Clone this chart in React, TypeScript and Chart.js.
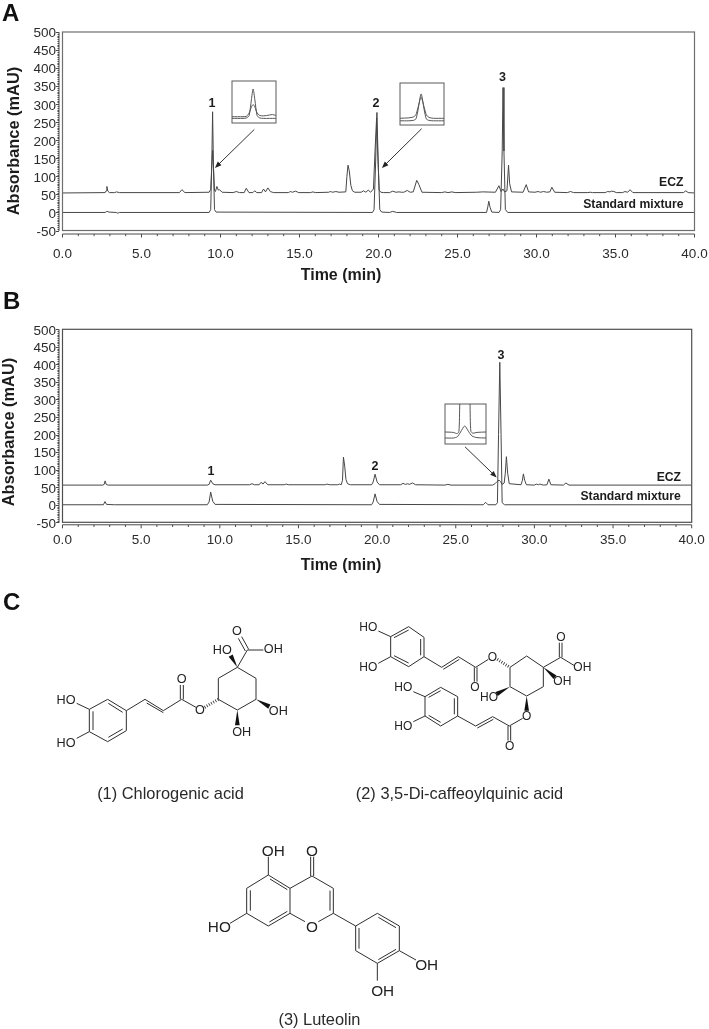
import React, { useEffect, useRef } from "react";
import { Chart, registerables } from "chart.js";

Chart.register(...registerables);

const FONT = '"Liberation Sans", Arial, sans-serif';
const INK = "#2b2b2b";
const LINE = "#474747";

/* ---------- chromatogram data (time in min, absorbance in mAU) ---------- */
const timeA_ecz = [0, 2.7, 2.76, 2.81, 2.87, 2.97, 3.3, 3.42, 3.6, 7.4, 7.56, 7.75, 9.28, 9.38, 9.45, 9.5, 9.55, 9.62, 9.68, 9.77, 9.86, 9.94, 10.1, 10.8, 11, 11.2, 11.5, 11.63, 11.8, 12.05, 12.16, 12.3, 12.6, 12.72, 12.85, 13, 13.15, 13.35, 14.3, 14.42, 14.55, 14.75, 14.95, 15.7, 15.85, 16, 16.85, 16.95, 17.1, 17.3, 17.5, 17.93, 18.0, 18.07, 18.15, 18.25, 18.35, 18.5, 18.9, 19.05, 19.2, 19.35, 19.5, 19.68, 19.78, 19.88, 19.95, 20.04, 20.15, 20.3, 20.7, 20.9, 21.1, 21.3, 21.45, 21.6, 21.82, 22.0, 22.2, 22.42, 22.55, 22.75, 24.0, 24.2, 24.4, 24.65, 24.85, 26.2, 26.6, 27.4, 27.62, 27.76, 27.88, 27.98, 28.13, 28.23, 28.3, 28.42, 29.15, 29.35, 29.5, 29.9, 30.1, 30.25, 30.45, 30.65, 30.85, 30.97, 31.15, 31.95, 32.15, 32.35, 33.25, 33.4, 33.55, 34.35, 34.5, 34.65, 34.75, 34.9, 35.05, 35.45, 35.6, 35.75, 35.8, 35.92, 36.1, 39.3, 39.45, 39.6, 40];
const absA_ecz = [54, 55, 60, 72, 59, 55, 55, 57, 55, 55, 63, 55, 56, 64, 130, 172, 128, 60, 58, 72, 62, 63, 56, 55, 58, 55, 55, 67, 55, 55, 60, 55, 55, 65, 57, 68, 58, 55, 55, 58, 56, 59, 55, 55, 57, 55, 56, 58, 56, 58, 56, 57, 100, 131, 115, 75, 60, 56, 56, 60, 56, 62, 56, 65, 170, 262, 170, 62, 56, 55, 55, 59, 56, 57, 56, 56, 61, 56, 57, 89, 78, 56, 55, 57, 55, 57, 55, 56, 57, 56, 74, 58, 65, 57, 60, 131, 80, 57, 56, 77, 57, 56, 58, 56, 58, 56, 57, 70, 56, 55, 58, 55, 55, 56, 55, 55, 58, 57, 59, 58, 55, 55, 58, 56, 57, 63, 55, 55, 60, 55, 54];
const timeA_std = [0, 2.7, 2.8, 2.95, 3.4, 3.5, 3.6, 9.28, 9.38, 9.45, 9.5, 9.55, 9.62, 9.72, 19.62, 19.72, 19.82, 19.9, 19.98, 20.08, 20.2, 20.7, 20.9, 21.15, 26.84, 26.92, 26.98, 27.06, 27.17, 27.63, 27.73, 27.83, 27.88, 27.94, 28.03, 28.18, 40];
const absA_std = [0, 0, 3, 1, 0, -2, 0, 0, 8, 140, 279, 140, 8, 1, 0, 8, 140, 277, 140, 8, 1, 0, 3, 0, 0, 16, 31, 14, 1, 0, 8, 170, 346, 170, 8, 0, 0];

const timeB_ecz = [0, 2.55, 2.65, 2.71, 2.78, 2.9, 9.2, 9.32, 9.42, 9.55, 9.7, 11.9, 12.05, 12.2, 12.5, 12.62, 12.75, 12.87, 13.05, 14.1, 14.22, 14.35, 16.7, 16.82, 16.95, 17.5, 17.6, 17.72, 17.8, 17.86, 17.94, 18.02, 18.12, 18.3, 19.65, 19.75, 19.87, 20.0, 20.15, 21.5, 21.65, 21.8, 21.95, 22.05, 22.25, 22.45, 24.3, 24.5, 24.7, 27.35, 27.5, 27.62, 27.75, 27.85, 27.95, 28.08, 28.15, 28.22, 28.3, 28.4, 29.15, 29.24, 29.3, 29.38, 29.49, 30.0, 30.12, 30.25, 30.35, 30.48, 30.6, 30.8, 30.92, 31.05, 31.85, 32.0, 32.2, 40];
const absB_ecz = [56, 56, 58, 68, 58, 56, 56, 58, 70, 60, 57, 57, 60, 57, 57, 64, 59, 66, 57, 57, 59, 57, 57, 59, 57, 57, 59, 57, 70, 136, 110, 72, 60, 57, 57, 65, 87, 65, 57, 57, 61, 58, 60, 58, 62, 57, 56, 58, 56, 56, 60, 66, 70, 66, 58, 62, 90, 137, 90, 60, 57, 70, 88, 70, 57, 56, 59, 57, 59, 57, 56, 57, 73, 57, 56, 62, 56, 56];
const timeB_std = [0, 2.6, 2.7, 2.8, 3.3, 9.2, 9.32, 9.42, 9.55, 9.7, 19.65, 19.75, 19.87, 20.0, 20.15, 26.75, 26.9, 27.05, 27.55, 27.65, 27.72, 27.8, 27.88, 27.95, 28.1, 40];
const absB_std = [0, 0, 9, 1, 0, 0, 8, 36, 10, 1, 0, 8, 31, 9, 1, 0, 7, 0, 0, 6, 200, 406, 200, 6, 0, 0];

/* ---------- inset curves (relative units 0-100) ---------- */
const inset1X = [0, 25, 33, 39, 44, 48, 52, 57, 63, 72, 85, 92, 100];
const inset1Std = [11, 11, 12, 18, 55, 81, 55, 18, 12, 11, 11, 11, 11];
const inset1Ecz = [15, 15, 16, 24, 38, 44, 38, 24, 18, 17, 19, 20, 18];
const inset2X = [0, 20, 30, 36, 41, 48, 55, 60, 66, 76, 100];
const inset2Std = [10, 10, 11, 14, 36, 74, 36, 14, 11, 10, 10];
const inset2Ecz = [16, 17, 19, 24, 42, 66, 42, 24, 18, 16, 16];
const inset3X = [0, 20, 30, 34, 36, 37, 60, 61, 63, 68, 78, 100];
const inset3Std = [30, 29, 26, 32, 100, 140, 140, 100, 32, 27, 29, 30];
const inset3EczX = [0, 20, 30, 38, 48, 57, 66, 78, 100];
const inset3Ecz = [15, 15, 18, 30, 45, 32, 20, 16, 15];

/* ---------- axes ---------- */
const Y_MIN = -50;
const Y_MAX = 500;
const Y_STEP = 50;
const Y_MINOR = 5;
const X_MIN = 0;
const X_MAX = 40;
const X_STEP = 5;
const X_MINOR = 1;
const X_TITLE = "Time (min)";
const Y_TITLE = "Absorbance (mAU)";

/* ---------- annotations, in data coordinates ---------- */
const peaksA = [["1", 9.46, 303], ["2", 19.84, 303], ["3", 27.85, 375]] as const;
const peaksB = [["1", 9.44, 94], ["2", 19.87, 110], ["3", 27.88, 424]] as const;
const seriesLabelsA = [["ECZ", 39.3, 82], ["Standard mixture", 39.3, 23]] as const;
const seriesLabelsB = [["ECZ", 39.32, 78], ["Standard mixture", 39.3, 22]] as const;
const arrowsA = [[12.14, 230, 9.65, 123.5], [22.73, 232, 20.22, 123.5]] as const;
const arrowsB = [[25.59, 165, 27.6, 78]] as const;

type Panel = {
  peaks: readonly (readonly [string, number, number])[];
  labels: readonly (readonly [string, number, number])[];
  arrows: readonly (readonly [number, number, number, number])[];
  axisY: number; // px gap of offset x axis below box
  xTitle: [number, number];
  yTitle: [number, number];
  boxColor: string;
};

function panelPlugin(p: Panel) {
  return {
    id: "panel",
    afterDraw(chart: any) {
      const { ctx, chartArea: a, scales } = chart;
      const x = scales.x;
      const y = scales.y;
      ctx.save();
      // plot frame
      ctx.strokeStyle = p.boxColor;
      ctx.lineWidth = 1.2;
      ctx.strokeRect(a.left, a.top, a.right - a.left, a.bottom - a.top);
      // offset axes
      ctx.strokeStyle = "#4a4a4a";
      ctx.lineWidth = 1;
      const ay = a.bottom + p.axisY;
      const ax = a.left - 3.5;
      ctx.beginPath();
      ctx.moveTo(a.left, ay);
      ctx.lineTo(a.right, ay);
      for (let t = X_MIN; t <= X_MAX; t += X_MINOR) {
        const px = x.getPixelForValue(t);
        ctx.moveTo(px, ay);
        ctx.lineTo(px, ay + (t % X_STEP === 0 ? 3.5 : 2.2));
      }
      ctx.moveTo(ax, a.top);
      ctx.lineTo(ax, a.bottom + 0.5);
      for (let v = Y_MIN; v <= Y_MAX; v += Y_MINOR) {
        const py = Math.round(y.getPixelForValue(v)) + 0.5;
        ctx.moveTo(ax, py);
        ctx.lineTo(ax - (v % Y_STEP === 0 ? 3 : 1.5), py);
      }
      ctx.stroke();
      // arrows
      ctx.strokeStyle = "#333";
      ctx.fillStyle = "#222";
      for (const [t0, v0, t1, v1] of p.arrows) {
        const x0 = x.getPixelForValue(t0);
        const y0 = y.getPixelForValue(v0);
        const x1 = x.getPixelForValue(t1);
        const y1 = y.getPixelForValue(v1);
        const ang = Math.atan2(y1 - y0, x1 - x0);
        ctx.beginPath();
        ctx.moveTo(x0, y0);
        ctx.lineTo(x1 - 4 * Math.cos(ang), y1 - 4 * Math.sin(ang));
        ctx.stroke();
        ctx.beginPath();
        ctx.moveTo(x1, y1);
        ctx.lineTo(x1 - 7 * Math.cos(ang - 0.38), y1 - 7 * Math.sin(ang - 0.38));
        ctx.lineTo(x1 - 7 * Math.cos(ang + 0.38), y1 - 7 * Math.sin(ang + 0.38));
        ctx.closePath();
        ctx.fill();
      }
      // text
      ctx.fillStyle = "#1c1c1c";
      ctx.textBaseline = "middle";
      ctx.textAlign = "center";
      ctx.font = `bold 12.5px ${FONT}`;
      for (const [s, t, v] of p.peaks) ctx.fillText(s, x.getPixelForValue(t), y.getPixelForValue(v));
      ctx.textAlign = "right";
      ctx.font = `bold 12.2px ${FONT}`;
      for (const [s, t, v] of p.labels) ctx.fillText(s, x.getPixelForValue(t), y.getPixelForValue(v));
      // axis titles
      ctx.textAlign = "center";
      ctx.font = `bold 16px ${FONT}`;
      ctx.fillText(X_TITLE, p.xTitle[0], p.xTitle[1]);
      ctx.font = `bold 16.4px ${FONT}`;
      ctx.translate(p.yTitle[0], p.yTitle[1]);
      ctx.rotate(-Math.PI / 2);
      ctx.fillText(Y_TITLE, 0, 0);
      ctx.restore();
    },
  };
}

const toPts = (xs: number[], ys: number[]) => xs.map((x, i) => ({ x, y: ys[i] }));

function makeMain(
  cv: HTMLCanvasElement,
  ecz: { x: number; y: number }[],
  std: { x: number; y: number }[],
  area: { left: number; top: number; right: number; bottom: number },
  xPad: number,
  panel: Panel,
) {
  return new Chart(cv, {
    type: "line",
    data: {
      datasets: [
        { label: "ECZ", data: ecz, borderColor: LINE, borderWidth: 1, pointRadius: 0, tension: 0 },
        { label: "Standard mixture", data: std, borderColor: LINE, borderWidth: 1, pointRadius: 0, tension: 0 },
      ],
    },
    options: {
      responsive: false,
      animation: false,
      layout: { autoPadding: false, padding: { left: 0, top: area.top, right: cv.width - area.right, bottom: 0 } },
      plugins: { legend: { display: false }, tooltip: { enabled: false }, title: { display: false } },
      scales: {
        x: {
          type: "linear",
          min: X_MIN,
          max: X_MAX,
          grid: { display: false, drawTicks: false },
          border: { display: false },
          ticks: {
            stepSize: X_STEP,
            padding: xPad,
            color: INK,
            maxRotation: 0,
            autoSkip: false,
            font: { family: FONT, size: 13.5 },
            callback: (v: any) => Number(v).toFixed(1),
          },
          afterFit: (s: any) => {
            s.height = cv.height - area.bottom;
            s.paddingLeft = 0;
            s.paddingRight = 0;
          },
        },
        y: {
          type: "linear",
          min: Y_MIN,
          max: Y_MAX,
          grid: { display: false, drawTicks: false },
          border: { display: false },
          ticks: {
            stepSize: Y_STEP,
            padding: 6.5,
            color: INK,
            autoSkip: false,
            labelOffset: 1.6,
            font: { family: FONT, size: 13.5 },
          },
          afterFit: (s: any) => {
            s.width = area.left;
            s.paddingTop = 0;
            s.paddingBottom = 0;
          },
        },
      },
    },
    plugins: [panelPlugin(panel)],
  } as any);
}

function makeInset(cv: HTMLCanvasElement, a: { x: number; y: number }[], b: { x: number; y: number }[]) {
  return new Chart(cv, {
    type: "line",
    data: {
      datasets: [
        { data: a, borderColor: "#555", borderWidth: 1, pointRadius: 0, tension: 0.25 },
        { data: b, borderColor: "#555", borderWidth: 1, pointRadius: 0, tension: 0.25 },
      ],
    },
    options: {
      responsive: false,
      animation: false,
      layout: { padding: 1 },
      plugins: { legend: { display: false }, tooltip: { enabled: false } },
      scales: {
        x: { type: "linear", min: 0, max: 100, display: false },
        y: { type: "linear", min: 0, max: 100, display: false },
      },
    },
    plugins: [
      {
        id: "frame",
        afterDraw(chart: any) {
          const { ctx, chartArea: r } = chart;
          ctx.save();
          ctx.strokeStyle = "#5a5a5a";
          ctx.lineWidth = 1;
          ctx.strokeRect(r.left, r.top, r.right - r.left, r.bottom - r.top);
          ctx.restore();
        },
      },
    ],
  } as any);
}

/* ---------- chemical structures (pictures, not chart marks) ---------- */
type Seg = number[];
type Lab = [string, number, number];

function Mol(props: {
  ox: number;
  oy: number;
  fs: number;
  bonds: Seg[];
  wedges?: Seg[];
  hashes?: Seg[];
  labels: Lab[];
}) {
  const { ox, oy, fs, bonds, wedges = [], hashes = [], labels } = props;
  return (
    <g transform={`translate(${ox},${oy}) scale(${1 / 3})`}>
      {bonds.map((b, i) => (
        <line key={i} x1={b[0]} y1={b[1]} x2={b[2]} y2={b[3]} stroke="#2e2e2e" strokeWidth={3} />
      ))}
      {wedges.map((w, i) => {
        const dx = w[2] - w[0];
        const dy = w[3] - w[1];
        const l = Math.hypot(dx, dy);
        const nx = (-dy / l) * 7;
        const ny = (dx / l) * 7;
        return <polygon key={i} fill="#111" points={`${w[0]},${w[1]} ${w[2] + nx},${w[3] + ny} ${w[2] - nx},${w[3] - ny}`} />;
      })}
      {hashes.map((h, i) => (
        <line key={i} x1={h[0]} y1={h[1]} x2={h[2]} y2={h[3]} stroke="#333" strokeWidth={9} strokeDasharray="2.5 5" />
      ))}
      {labels.map(([s, x, y], i) => (
        <text key={i} x={x} y={y} fontFamily={FONT} fontSize={fs} fill="#222" textAnchor="middle" dominantBaseline="central">
          {s}
        </text>
      ))}
    </g>
  );
}

const mol1Bonds: Seg[] = [
  [268, 358, 323, 328], [323, 328, 379, 362], [379, 362, 379, 422], [379, 422, 323, 455], [323, 455, 268, 425], [268, 425, 268, 358],
  [325, 340, 368, 367], [368, 417, 325, 442], [279, 420, 279, 364],
  [230, 340, 268, 358], [230, 445, 268, 425],
  [379, 362, 435, 328], [435, 328, 490, 362], [440, 339, 490, 368], [490, 362, 545, 328],
  [541, 328, 541, 285], [550, 328, 550, 285], [545, 328, 588, 352],
  [655, 328, 655, 265], [655, 265, 712, 232], [712, 232, 768, 265], [768, 265, 768, 328], [768, 328, 712, 360], [712, 360, 655, 328],
  [712, 232, 742, 180], [742, 180, 790, 180], [746, 178, 725, 140], [736, 183, 715, 145],
];
const mol1Wedges: Seg[] = [[712, 232, 692, 197], [768, 328, 808, 350], [712, 360, 712, 406]];
const mol1Hashes: Seg[] = [[614, 352, 655, 328]];
const mol1Labels: Lab[] = [
  ["HO", 198, 330], ["HO", 198, 458], ["O", 545, 267], ["O", 600, 360], ["O", 711, 122],
  ["HO", 667, 180], ["OH", 820, 178], ["OH", 835, 362], ["OH", 725, 425],
];

const mol2Bonds: Seg[] = [
  [182, 140, 236, 110], [236, 110, 282, 142], [282, 142, 282, 200], [282, 200, 236, 230], [236, 230, 182, 200], [182, 200, 182, 140],
  [192, 143, 236, 120], [272, 147, 272, 196], [192, 197, 236, 219],
  [145, 123, 182, 140], [145, 220, 182, 200],
  [282, 200, 335, 232], [335, 232, 385, 200], [340, 238, 388, 208], [385, 200, 437, 232],
  [433, 232, 433, 275], [441, 232, 441, 275], [437, 232, 475, 208],
  [540, 232, 590, 198], [590, 198, 640, 232], [640, 232, 640, 290], [640, 290, 590, 318], [590, 318, 540, 290], [540, 290, 540, 232],
  [640, 232, 692, 202], [688, 202, 688, 158], [696, 202, 696, 158], [692, 202, 735, 228],
  [285, 320, 332, 292], [332, 292, 383, 320], [383, 320, 383, 378], [383, 378, 332, 408], [332, 408, 285, 378], [285, 378, 285, 320],
  [296, 322, 332, 302], [373, 325, 373, 373], [296, 376, 332, 397],
  [250, 305, 285, 320], [250, 395, 285, 378],
  [383, 378, 437, 408], [437, 408, 488, 380], [442, 414, 490, 388], [488, 380, 538, 408],
  [534, 408, 534, 452], [542, 408, 542, 452], [538, 408, 578, 385],
];
const mol2Wedges: Seg[] = [[640, 232, 675, 262], [540, 290, 500, 312], [590, 318, 590, 362]];
const mol2Hashes: Seg[] = [[502, 208, 540, 232]];
const mol2Labels: Lab[] = [
  ["HO", 115, 112], ["HO", 115, 232], ["O", 487, 200], ["O", 693, 142], ["OH", 757, 232], ["OH", 697, 273],
  ["O", 435, 292], ["HO", 477, 320], ["HO", 220, 292], ["HO", 220, 408], ["O", 590, 378], ["O", 539, 468],
];

const mol3Bonds: Seg[] = [
  [235, 165, 300, 205], [300, 205, 300, 280], [300, 280, 235, 318], [235, 318, 170, 280], [170, 280, 170, 205], [170, 205, 235, 165],
  [240, 177, 292, 209], [292, 274, 238, 306], [181, 272, 181, 211],
  [300, 205, 366, 168], [366, 168, 430, 205], [430, 205, 430, 280], [430, 280, 385, 305], [345, 305, 300, 280], [420, 212, 420, 272],
  [235, 165, 235, 110], [362, 168, 362, 110], [371, 168, 371, 110], [120, 310, 170, 280],
  [430, 280, 497, 318], [497, 318, 562, 280], [562, 280, 628, 318], [628, 318, 628, 392], [628, 392, 562, 430], [562, 430, 497, 392], [497, 392, 497, 318],
  [565, 292, 618, 323], [618, 388, 565, 419], [507, 324, 507, 386],
  [628, 392, 678, 420], [562, 430, 562, 482],
];
const mol3Labels: Lab[] = [["OH", 250, 92], ["O", 366, 92], ["HO", 88, 320], ["O", 366, 318], ["OH", 710, 432], ["OH", 578, 510]];

const captions: [string, number, number, number][] = [
  ["(1) Chlorogenic acid", 170.5, 793, 16.4],
  ["(2) 3,5-Di-caffeoylquinic acid", 459.5, 793, 16.4],
  ["(3) Luteolin", 319.5, 1019, 16.4],
];
const panelLetters: [string, number, number][] = [["A", 2, 12], ["B", 3, 300], ["C", 3, 601]];

const insets = [
  { key: "i1", left: 230.7, top: 80.3, w: 46, h: 44 },
  { key: "i2", left: 399.3, top: 81.7, w: 46, h: 44 },
  { key: "i3", left: 444.3, top: 403, w: 43, h: 42 },
];

export default function App() {
  const a = useRef<HTMLCanvasElement>(null);
  const b = useRef<HTMLCanvasElement>(null);
  const i1 = useRef<HTMLCanvasElement>(null);
  const i2 = useRef<HTMLCanvasElement>(null);
  const i3 = useRef<HTMLCanvasElement>(null);

  useEffect(() => {
    const charts = [
      makeMain(
        a.current!,
        toPts(timeA_ecz, absA_ecz),
        toPts(timeA_std, absA_std),
        { left: 62.5, top: 32, right: 694.5, bottom: 230.5 },
        15.5,
        {
          peaks: peaksA, labels: seriesLabelsA, arrows: arrowsA, axisY: 3.5,
          xTitle: [341, 276], yTitle: [14, 141], boxColor: "#6e6e6e",
        },
      ),
      makeMain(
        b.current!,
        toPts(timeB_ecz, absB_ecz),
        toPts(timeB_std, absB_std),
        { left: 62.5, top: 44.3, right: 691.7, bottom: 237.3 },
        10,
        {
          peaks: peaksB, labels: seriesLabelsB, arrows: arrowsB, axisY: 2.5,
          xTitle: [341, 280.7], yTitle: [9, 147], boxColor: "#4f4f4f",
        },
      ),
      makeInset(i1.current!, toPts(inset1X, inset1Std), toPts(inset1X, inset1Ecz)),
      makeInset(i2.current!, toPts(inset2X, inset2Std), toPts(inset2X, inset2Ecz)),
      makeInset(i3.current!, toPts(inset3X, inset3Std), toPts(inset3EczX, inset3Ecz)),
    ];
    return () => charts.forEach((c) => c.destroy());
  }, []);

  const insetRefs: Record<string, React.RefObject<HTMLCanvasElement | null>> = { i1, i2, i3 };
  const abs = (left: number, top: number): React.CSSProperties => ({ position: "absolute", left, top, display: "block" });

  return (
    <div style={{ position: "absolute", left: 0, top: 0, width: 709, height: 1029, background: "#fff", overflow: "hidden", filter: "blur(0.3px)" }}>
      <canvas ref={a} width={709} height={285} style={abs(0, 0)} />
      <canvas ref={b} width={709} height={295} style={abs(0, 285)} />
      {insets.map((s) => (
        <canvas key={s.key} ref={insetRefs[s.key]} width={s.w} height={s.h} style={abs(s.left, s.top)} />
      ))}
      <svg width={709} height={1029} style={{ position: "absolute", left: 0, top: 0, pointerEvents: "none" }}>
        {panelLetters.map(([s, x, y]) => (
          <text key={s} x={x} y={y} fontFamily={FONT} fontWeight="bold" fontSize={24} fill="#111" dominantBaseline="central">
            {s}
          </text>
        ))}
        <Mol ox={0} oy={590} fs={38} bonds={mol1Bonds} wedges={mol1Wedges} hashes={mol1Hashes} labels={mol1Labels} />
        <Mol ox={330} oy={590} fs={36} bonds={mol2Bonds} wedges={mol2Wedges} hashes={mol2Hashes} labels={mol2Labels} />
        <Mol ox={190} oy={820} fs={46} bonds={mol3Bonds} labels={mol3Labels} />
        {captions.map(([s, x, y, fs]) => (
          <text key={s} x={x} y={y} fontFamily={FONT} fontSize={fs} fill="#2a2a2a" textAnchor="middle" dominantBaseline="central">
            {s}
          </text>
        ))}
      </svg>
    </div>
  );
}
